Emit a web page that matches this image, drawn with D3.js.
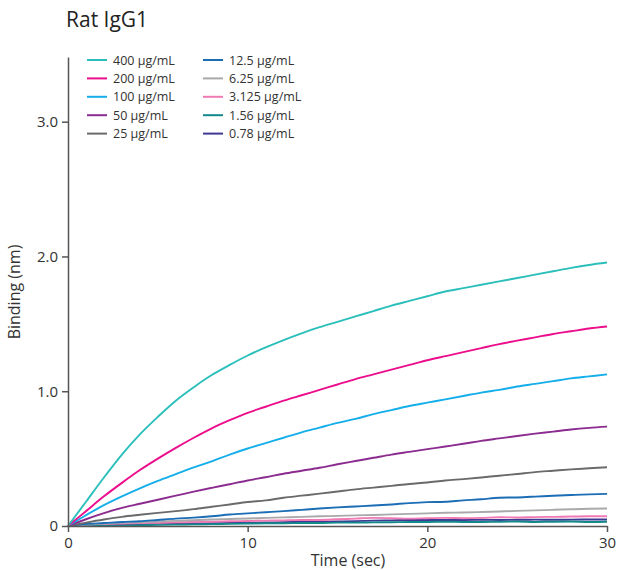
<!DOCTYPE html>
<html>
<head>
<meta charset="utf-8">
<script src="https://cdn.jsdelivr.net/npm/d3@7"></script>
<style>
body { margin: 0; background: #fff; }
text { font-family: "Open Sans", Lato, sans-serif; }
</style>
</head>
<body>
<svg id="chart" width="621" height="570"></svg>
<script>
const times = d3.range(0, 31);
const labels = ["400 μg/mL","200 μg/mL","100 μg/mL","50 μg/mL","25 μg/mL","12.5 μg/mL","6.25 μg/mL","3.125 μg/mL","1.56 μg/mL","0.78 μg/mL"];
const colors = ["#2bbfbb","#ec0d8c","#14aeea","#8b2b8f","#6a6a6d","#1b6db5","#a9a9ac","#f07ab4","#13898c","#3e3993"];
const s400 = [0,0.18,0.36,0.53,0.68,0.81,0.93,1.03,1.12,1.195,1.265,1.325,1.38,1.43,1.475,1.515,1.555,1.595,1.635,1.67,1.705,1.74,1.765,1.79,1.815,1.84,1.865,1.89,1.915,1.937,1.955];
const s200 = [0,0.11,0.22,0.32,0.415,0.50,0.58,0.655,0.725,0.785,0.84,0.885,0.93,0.97,1.01,1.05,1.09,1.125,1.16,1.195,1.23,1.26,1.29,1.32,1.35,1.375,1.40,1.425,1.445,1.465,1.48];
const s100 = [0,0.08,0.155,0.22,0.28,0.335,0.385,0.435,0.48,0.53,0.575,0.615,0.655,0.695,0.73,0.765,0.795,0.83,0.86,0.89,0.915,0.94,0.965,0.99,1.01,1.035,1.055,1.075,1.095,1.11,1.125];
const s50 = [0,0.05,0.095,0.135,0.165,0.195,0.225,0.255,0.283,0.31,0.338,0.362,0.388,0.41,0.432,0.458,0.482,0.506,0.53,0.55,0.57,0.59,0.61,0.632,0.65,0.668,0.685,0.70,0.716,0.728,0.737];
const s25 = [0,0.025,0.048,0.068,0.083,0.097,0.11,0.125,0.143,0.16,0.178,0.19,0.21,0.225,0.24,0.256,0.272,0.285,0.298,0.312,0.323,0.338,0.348,0.36,0.373,0.386,0.40,0.41,0.42,0.428,0.436];
const s12 = [0,0.015,0.022,0.03,0.035,0.045,0.055,0.062,0.072,0.085,0.094,0.102,0.11,0.12,0.13,0.138,0.145,0.152,0.16,0.17,0.177,0.18,0.19,0.198,0.21,0.212,0.218,0.225,0.23,0.235,0.238];
const s6 = [0,0.01,0.018,0.023,0.028,0.033,0.038,0.043,0.048,0.052,0.056,0.06,0.064,0.068,0.072,0.075,0.079,0.082,0.086,0.09,0.094,0.098,0.10,0.104,0.108,0.112,0.116,0.12,0.124,0.128,0.13];
const s3 = [0,0.012,0.015,0.018,0.022,0.024,0.027,0.03,0.032,0.035,0.037,0.04,0.042,0.045,0.045,0.05,0.055,0.06,0.058,0.055,0.058,0.06,0.058,0.06,0.065,0.063,0.066,0.068,0.07,0.072,0.072];
const s1 = [0,0.002,0.0,0.003,0.006,0.008,0.01,0.012,0.014,0.016,0.018,0.02,0.02,0.022,0.022,0.025,0.025,0.027,0.028,0.03,0.03,0.032,0.03,0.03,0.032,0.033,0.03,0.032,0.033,0.03,0.032];
const s07 = [0,0.005,0.008,0.01,0.012,0.014,0.016,0.018,0.02,0.022,0.024,0.026,0.028,0.03,0.032,0.034,0.036,0.04,0.042,0.044,0.045,0.044,0.045,0.046,0.045,0.046,0.047,0.046,0.047,0.048,0.048];
const seriesValues = [s400,s200,s100,s50,s25,s12,s6,s3,s1,s07];
const xTicks = [0,10,20,30];
const yTicks = [0,1,2,3];
const yTickLabels = ["0","1.0","2.0","3.0"];

const svg = d3.select("#chart");
const x = d3.scaleLinear().domain([0,30]).range([68,607]);
const y = d3.scaleLinear().domain([0,3.48]).range([526,57]);
const axisColor = "#555";
const font = "'Open Sans', Lato, sans-serif";

svg.append("text").attr("x",66).attr("y",27).attr("font-size",21).attr("fill","#222").text("Rat IgG1");

const line = d3.line().x((d,i)=>x(times[i])).y(d=>y(d)).curve(d3.curveMonotoneX);
for (let k = seriesValues.length-1; k >= 0; k--) {
  svg.append("path").datum(seriesValues[k]).attr("d",line)
    .attr("fill","none").attr("stroke",colors[k]).attr("stroke-width",1.9);
}

const yAxis = d3.axisLeft(y).tickValues(yTicks).tickFormat((d,i)=>yTickLabels[i]).tickSize(6).tickSizeOuter(0);
const gy = svg.append("g").attr("transform","translate(68,0)").call(yAxis);
gy.select(".domain").attr("stroke",axisColor).attr("stroke-width",1.5);
gy.selectAll(".tick line").attr("stroke",axisColor).attr("stroke-width",1.5);
gy.selectAll(".tick text").attr("font-size",15).attr("fill","#333").attr("font-family",font).attr("x",-10);

const xAxis = d3.axisBottom(x).tickValues(xTicks).tickSize(6).tickSizeOuter(0);
const gx = svg.append("g").attr("transform","translate(0,526)").call(xAxis);
gx.select(".domain").attr("stroke",axisColor).attr("stroke-width",1.5);
gx.selectAll(".tick line").attr("stroke",axisColor).attr("stroke-width",1.5);
gx.selectAll(".tick text").attr("font-size",15).attr("fill","#333").attr("font-family",font).attr("y",11);

svg.append("text").attr("x",348).attr("y",566).attr("text-anchor","middle").attr("font-size",16).attr("fill","#333").text("Time (sec)");
svg.append("text").attr("transform","translate(20,292) rotate(-90)").attr("text-anchor","middle").attr("font-size",16).attr("fill","#333").text("Binding (nm)");

const legend = svg.append("g");
labels.forEach((lab,i)=>{
  const col = Math.floor(i/5), row = i%5;
  const lx = col===0 ? 87 : 203;
  const ly = 60 + row*18.4;
  legend.append("line").attr("x1",lx).attr("x2",lx+20).attr("y1",ly).attr("y2",ly)
    .attr("stroke",colors[i]).attr("stroke-width",2);
  legend.append("text").attr("x",lx+26).attr("y",ly+4.5).attr("font-size",12.5).attr("fill","#333").text(lab);
});
</script>
</body>
</html>
